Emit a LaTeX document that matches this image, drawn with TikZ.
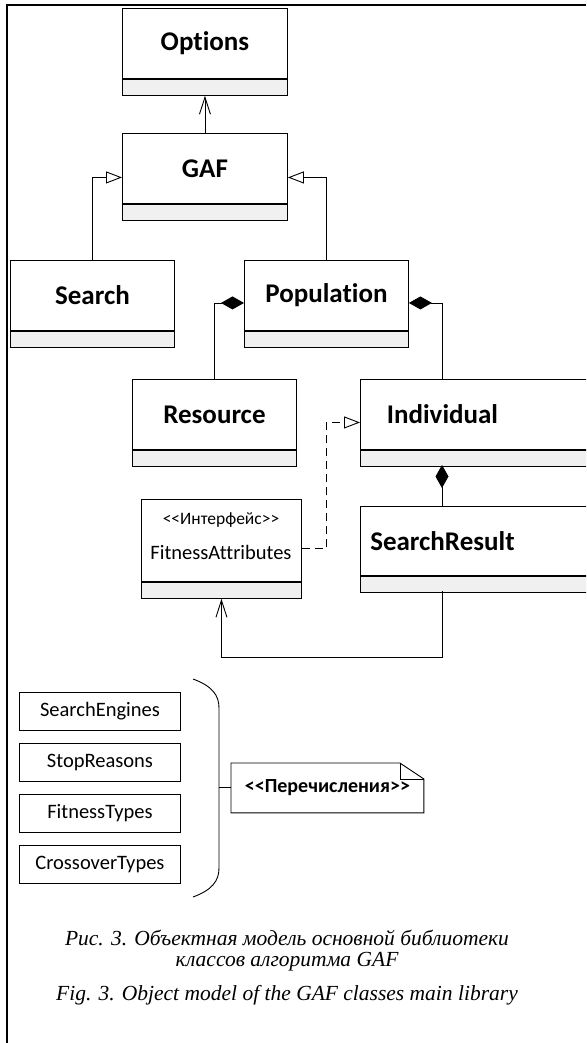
\documentclass[tikz,border=0pt]{standalone}
\usepackage{fontspec}
\setmainfont{Carlito}[Ligatures={NoCommon}]
\newfontfamily\capfont{Liberation Serif}
\usetikzlibrary{arrows.meta}
\definecolor{compgray}{HTML}{F0F0F0}
\begin{document}
\begin{tikzpicture}[x=1pt,y=-1pt,line width=0.9pt,
  cname/.style={draw, rectangle, inner sep=0pt, minimum width=165pt, minimum height=70pt,
    font=\fontsize{27}{30}\selectfont\bfseries, anchor=north west},
  cpart/.style={draw, fill=compgray, rectangle, inner sep=0pt, minimum width=165pt, minimum height=16pt, anchor=north},
  enumbox/.style={draw, rectangle, inner sep=0pt, minimum width=161pt, minimum height=38pt,
    font=\fontsize{20.5}{24}\selectfont, anchor=north west},
  txt/.style={inner sep=0pt},
  assoc/.style={-{Straight Barb[length=17pt,width=11pt]}},
  gen/.style={-{Triangle[open,length=16pt,width=12pt,fill=white]}},
  realz/.style={-{Triangle[open,length=16pt,width=12pt,fill=white]}, dash pattern=on 8pt off 5pt},
  comp/.style={{Diamond[length=23pt,width=13pt]}-},
  caption/.style={inner sep=0pt, font=\capfont\itshape\fontsize{21.5}{26}\selectfont}
]
\useasboundingbox (0,0) rectangle (586,1043);
\clip (0,0) rectangle (586,1043);
% frame
\draw[line width=1.8pt] (7,1043) -- (7,5) -- (586,5);

% classes
\node[cname] (options) at (122,8) {Options};
\node[cpart] (optionsC) at (options.south) {};
\node[cname] (gaf) at (122,133) {GAF};
\node[cpart] (gafC) at (gaf.south) {};
\node[cname, minimum width=164pt] (search) at (10,260) {Search};
\node[cpart, minimum width=164pt] (searchC) at (search.south) {};
\node[cname, minimum width=164pt] (population) at (244,260) {Population};
\node[cpart, minimum width=164pt] (populationC) at (population.south) {};
\node[cname, minimum width=164pt] (resource) at (132,379) {Resource};
\node[cpart, minimum width=164pt] (resourceC) at (resource.south) {};
\node[cname, minimum width=240pt] (individual) at (360,379) {\makebox[164pt]{Individual}\hspace*{76pt}};
\node[cpart, minimum width=240pt] (individualC) at (individual.south) {};
\node[cname, minimum width=240pt, minimum height=69pt] (searchresult) at (360,506) {\makebox[164pt]{SearchResult}\hspace*{76pt}};
\node[cpart, minimum width=240pt] (searchresultC) at (searchresult.south) {};
\node[cname, minimum width=160pt, minimum height=82pt] (fa) at (141,499) {};
\node[cpart, minimum width=160pt] (faC) at (fa.south) {};
\node[txt, font=\fontsize{17.5}{20}\selectfont] (faS) at (221,520) {<{}<Интерфейс>{}>};
\node[txt, font=\fontsize{20.5}{24}\selectfont] (faN) at (221,552) {FitnessAttributes};

\coordinate (indTop) at (442,379);
\coordinate (indBot) at (442,465);
\coordinate (srTop) at (442,506);
\coordinate (srBot) at (442,591);

% connectors
\draw[assoc] (gaf.north) -- (optionsC.south);
\draw[gen] (search.north) |- ([yshift=-9pt]gaf.west);
\draw[gen] (population.north) |- ([yshift=-9pt]gaf.east);
\draw[comp] ([yshift=-7.5pt]population.west) -| (resource.north);
\draw[comp] ([yshift=-7.5pt]population.east) -| (indTop);
\draw[comp] (indBot) -- (srTop);
\draw[realz] ([yshift=-8pt]fa.east) -- ++(25,0) |- ([yshift=-8pt]individual.west);
\draw[assoc] (srBot) -- ++(0,66) -| (faC.south);

% enumerations
\node[enumbox] (se) at (19,692) {SearchEngines};
\node[enumbox] (sr) at (19,743) {StopReasons};
\node[enumbox] (ft) at (19,794) {FitnessTypes};
\node[enumbox] (ct) at (19,845) {CrossoverTypes};
\coordinate (brTop) at (193,679);
\coordinate (brBot) at (193,897);
\coordinate (brMid) at (219,787);
\draw (brTop) .. controls (212,686) and (219,695) .. (219,708) -- (219,868) .. controls (219,881) and (212,890) .. (brBot);

\node[inner sep=0pt, minimum width=192pt, minimum height=49pt, anchor=north west,
  font=\fontsize{20}{24}\selectfont\bfseries] (note) at (231,763) {<{}<Перечисления>{}>};
\draw (note.south west) -- (note.north west) -- ([xshift=-24pt]note.north east)
  -- ([yshift=-16pt]note.north east) -- (note.south east) -- cycle;
\draw[line width=0.6pt] ([xshift=-24pt]note.north east) |- ([yshift=-16pt]note.north east);
\draw (brMid) -- (note.west |- brMid);

% captions
\node[caption] (cap1) at (287,938) {Рис. 3. Объектная модель основной библиотеки};
\node[caption] (cap2) at (287,962) {классов алгоритма GAF};
\node[caption] (cap3) at (287,995) {Fig. 3. Object model of the GAF classes main library};
\end{tikzpicture}
\end{document}
